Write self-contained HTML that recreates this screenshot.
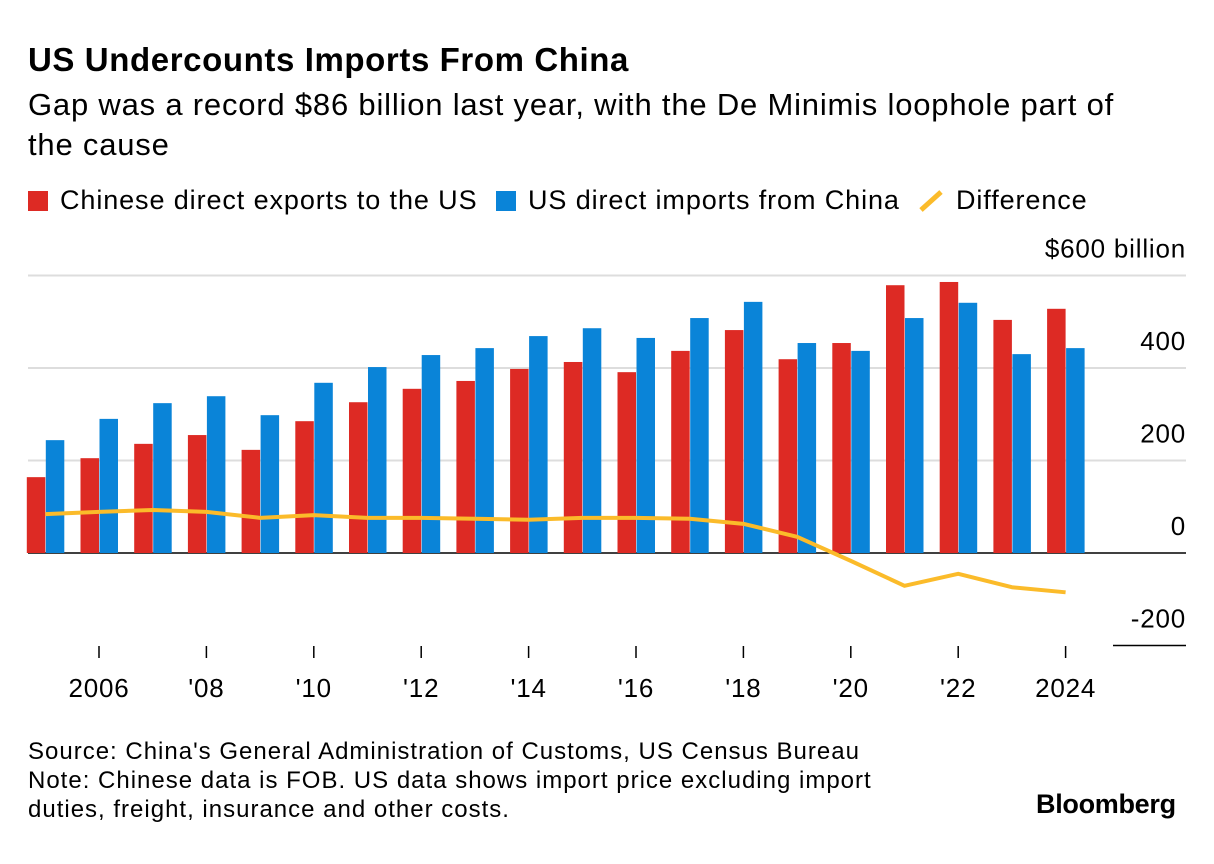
<!DOCTYPE html>
<html><head><meta charset="utf-8"><style>
body{margin:0;background:#fff;width:1214px;height:864px;overflow:hidden;font-family:"Liberation Sans",Arial,sans-serif;color:#000}
.t{position:absolute;left:28px;top:41px;font-size:33px;font-weight:bold;letter-spacing:0.6px}
.s{position:absolute;left:28px;top:85px;font-size:31px;line-height:40px;width:1120px;letter-spacing:0.8px}
.lg{position:absolute;top:185px;font-size:27px;letter-spacing:0.9px;display:flex;align-items:center}
.src{position:absolute;left:28px;top:737px;font-size:24px;line-height:29px;letter-spacing:1px}
.bb{position:absolute;left:1036px;top:789px;font-size:27px;font-weight:bold;letter-spacing:-0.3px}
</style></head><body>
<div class="t">US Undercounts Imports From China</div>
<div class="s">Gap was a record $86 billion last year, with the De Minimis loophole part of the cause</div>
<div class="lg" style="left:28px"><span style="display:inline-block;width:20px;height:20px;background:#dd2a24;margin-right:12px"></span>Chinese direct exports to the US</div>
<div class="lg" style="left:496px"><span style="display:inline-block;width:20px;height:20px;background:#0a84d8;margin-right:12px"></span>US direct imports from China</div>
<div class="lg" style="left:918px"><svg width="28" height="24" style="margin-right:10px"><line x1="3" y1="21" x2="23" y2="3" stroke="#fbbb2a" stroke-width="5"/></svg>Difference</div>
<svg id="chart" width="1214" height="864" style="position:absolute;left:0;top:0"></svg>
<div class="src">Source: China's General Administration of Customs, US Census Bureau<br>Note: Chinese data is FOB. US data shows import price excluding import<br>duties, freight, insurance and other costs.</div>
<div class="bb">Bloomberg</div>
<script>
const years=[2005,2006,2007,2008,2009,2010,2011,2012,2013,2014,2015,2016,2017,2018,2019,2020,2021,2022,2023,2024];
const chinaExports=[164,205,236,255,223,285,326,355,372,398,413,391,437,482,419,454,579,586,504,528];
const usImports=[244,290,324,339,298,368,402,428,443,469,486,465,508,543,454,437,508,541,430,443];
const difference=[84,89,93,89,76,82,76,76,74,72,76,76,74,63,35,-17,-71,-45,-74,-85];
const yTicks=[-200,0,200,400,600];
const yTickLabels=["-200","0","200","400","$600 billion"];
const xTickYears=[2006,2008,2010,2012,2014,2016,2018,2020,2022,2024];
const xTickLabels=["2006","'08","'10","'12","'14","'16","'18","'20","'22","2024"];
const svg=document.getElementById('chart');const NS='http://www.w3.org/2000/svg';
const y=v=>553-v*0.4625;
const x=yr=>45.3+(yr-2005)*53.7;
function mk(t,a){const e=document.createElementNS(NS,t);for(const k in a)e.setAttribute(k,a[k]);svg.appendChild(e);return e;}
yTicks.forEach((v,i)=>{
  const l=mk('line',{x1:v===-200?1113:28,x2:1186,y1:y(v),y2:y(v),stroke:v<=0?'#000':'#ddd','stroke-width':v<=0?1.5:2});
  
  
  const t=mk('text',{x:1186,y:y(v)-18,'text-anchor':'end','font-size':26,'letter-spacing':0.8,'font-family':'Liberation Sans, Arial, sans-serif'});
  t.textContent=yTickLabels[i];
  
  
});
years.forEach((yr,i)=>{
  const cx=x(yr);
  const r=mk('rect',{x:cx-18.5,y:y(chinaExports[i]),width:18.5,height:y(0)-y(chinaExports[i]),fill:'#dd2a24'});
  
  
  const b=mk('rect',{x:cx+0.5,y:y(usImports[i]),width:18.5,height:y(0)-y(usImports[i]),fill:'#0a84d8'});
  
  
});
const p=mk('polyline',{points:years.map((yr,i)=>x(yr)+','+y(difference[i])).join(' '),fill:'none',stroke:'#fbbb2a','stroke-width':4,'stroke-linejoin':'round'});


xTickYears.forEach((yr,i)=>{
  const l=mk('line',{x1:x(yr),x2:x(yr),y1:646,y2:658,stroke:'#000','stroke-width':1.5});
  
  
  const t=mk('text',{x:x(yr),y:697,'text-anchor':'middle','font-size':26,'letter-spacing':0.8,'font-family':'Liberation Sans, Arial, sans-serif'});
  t.textContent=xTickLabels[i];
  
  
});
</script>
</body></html>
